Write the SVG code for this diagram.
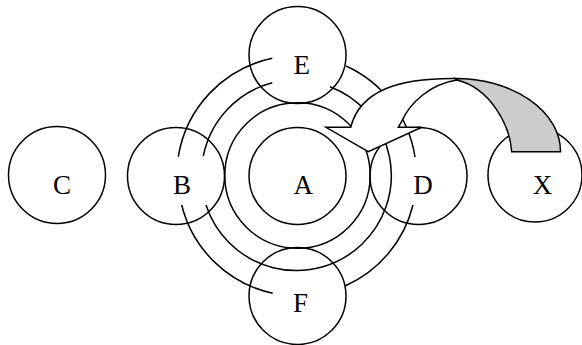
<svg xmlns="http://www.w3.org/2000/svg" width="582" height="345" viewBox="0 0 582 345">
<style>
.c{fill:none;stroke:#000;stroke-width:1.5}
.a{fill:none;stroke:#000;stroke-width:1.5}
.t{font-family:"Liberation Serif","Times New Roman",serif;font-size:27px;fill:#000;text-anchor:middle}
</style>
<rect width="582" height="345" fill="#fff"/>
<g id="node-C"><circle class="c" cx="57" cy="175" r="48.5"/><text class="t" x="62" y="193.5">C</text></g>
<g id="node-B"><circle class="c" cx="176" cy="176" r="48.5"/><text class="t" x="182" y="193.5">B</text></g>
<g id="node-A"><circle class="c" cx="297.5" cy="176" r="48.5"/><circle class="c" cx="297.5" cy="175.5" r="72.7"/><text class="t" x="303.3" y="193.5">A</text></g>
<g id="node-D"><circle class="c" cx="418.5" cy="176" r="48.5"/><text class="t" x="423" y="193.5">D</text></g>
<g id="node-E"><circle class="c" cx="297.5" cy="55" r="48.5"/><text class="t" x="301.7" y="74.3">E</text></g>
<g id="node-F"><circle class="c" cx="297.5" cy="296" r="48.5"/><text class="t" x="300.5" y="312">F</text></g>
<g id="node-X"><circle class="c" cx="535" cy="175" r="47"/><text class="t" x="542.5" y="193.5">X</text></g>
<g id="connectors">
<path class="a" d="M272.3,58.3 A120,120 0 0 0 178.3,156.7"/>
<path class="a" d="M181.7,205 A120,120 0 0 0 272.7,293.3"/>
<path class="a" d="M413,205 A120,120 0 0 1 345,286"/>
<path class="a" d="M346,66 A120,120 0 0 1 415,157"/>
<path class="a" d="M272.3,82.7 A95,95 0 0 0 203.3,156"/>
<path class="a" d="M330,86.7 A95,95 0 1 1 206,205"/>
</g>
<g id="curved-arrow" stroke="#000" stroke-width="1.5" stroke-linejoin="miter">
<path fill="#fff" d="M455,78.5 C400,78 360,90 350.7,127.3 L326,127.3 L368.3,151.7 L421.7,127.3 L398.3,127.3 L401.7,121.3 C410,103 430,84 457,80 Z"/>
<path fill="#ccc" d="M455,78.5 A105,73 0 0 1 560.5,151.7 L511.7,151.7 C510,125 490,88 457,80 Z"/>
</g>
</svg>
